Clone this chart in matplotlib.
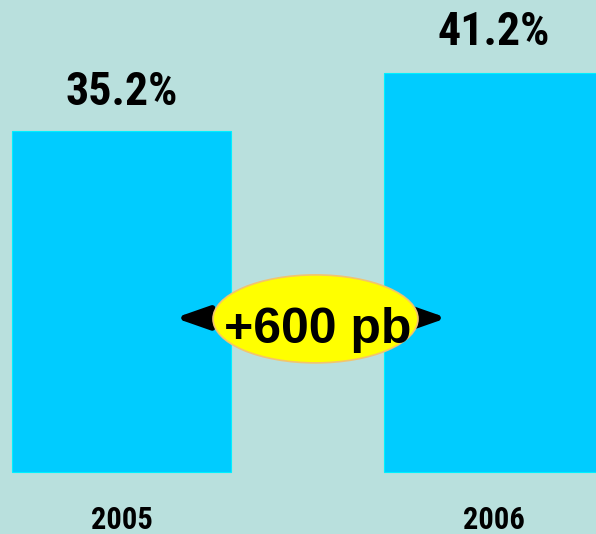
import matplotlib
matplotlib.use("Agg")
import matplotlib.pyplot as plt
from matplotlib.patches import Ellipse
from matplotlib.transforms import blended_transform_factory

# data
years = ["2005", "2006"]
shares = [35.2, 41.2]
labels = ["35.2%", "41.2%"]

BG = "#B9E0DD"
BAR = "#00CCFF"
NARROW = ["Roboto Condensed", "DejaVu Sans"]

fig = plt.figure(figsize=(5.96, 5.34), dpi=100, facecolor=BG)
ax = fig.add_axes([0, 0, 1, 1])
ax.set_facecolor(BG)

x = list(range(len(years)))
ax.bar(x, shares, width=0.589, color=BAR, edgecolor="#00F0FF", linewidth=0.8, zorder=2)

ax.set_xlim(-0.3266, 1.2755)
ax.set_ylim(-6.40, 48.71)
ax.axis("off")

# value labels above bars
for xi, v, lab, off in zip(x, shares, labels, [19, 20]):
    ax.annotate(lab, xy=(xi, v), xytext=(0, off), textcoords="offset points",
                ha="center", va="baseline", fontsize=33, fontweight="bold",
                family=NARROW, color="black")

# year labels at the bottom
tr = blended_transform_factory(ax.transData, ax.transAxes)
for xi, yr in zip(x, years):
    ax.text(xi, 0.01, yr, transform=tr, ha="center", va="baseline",
            fontsize=22, fontweight="bold", family=NARROW, color="black")

# double arrow with the difference bubble
ay = 15.9
ax.annotate("", xy=(0.144, ay), xytext=(0.875, ay),
            arrowprops=dict(arrowstyle="<|-|>,head_length=2.0,head_width=0.7",
                            color="black", lw=4.5, shrinkA=0, shrinkB=0), zorder=3)
ax.add_patch(Ellipse((0.5215, 15.8), 0.551, 9.08, facecolor="#FFFF00",
                     edgecolor="#F2C46E", linewidth=1.2, zorder=4))
diff = round((shares[1] - shares[0]) * 100)
ax.text(0.527, 13.3, f"+{diff} pb", ha="center", va="baseline", fontsize=36,
        fontweight="bold", family=["Liberation Sans", "DejaVu Sans"],
        color="black", zorder=5)

fig.savefig("out.png", dpi=100, facecolor=BG)
